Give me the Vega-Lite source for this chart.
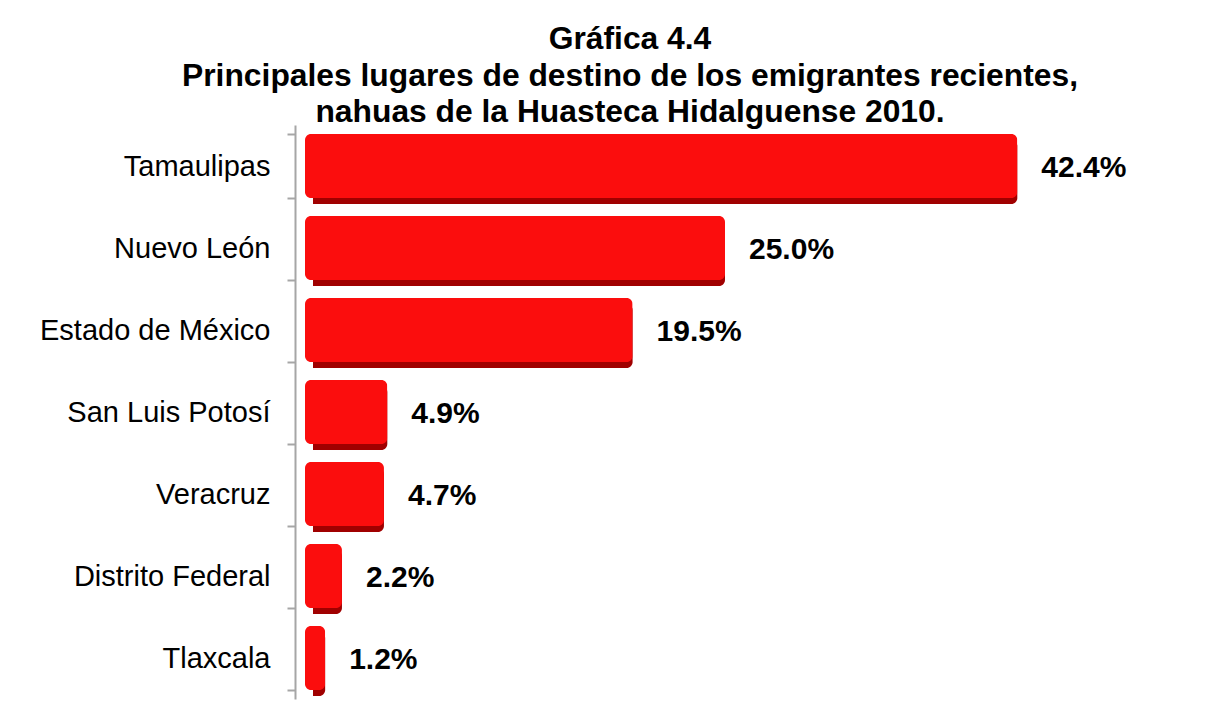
{
  "$schema": "https://vega.github.io/schema/vega-lite/v6.json",
  "width": 840,
  "height": 574,
  "autosize": {"type": "none"},
  "padding": {"left": 305, "top": 125, "right": 62, "bottom": 22},
  "background": "white",
  "title": {
    "text": ["Gráfica 4.4", "Principales lugares de destino de los emigrantes recientes,", "nahuas de la Huasteca Hidalguense 2010."],
    "font": "Liberation Sans",
    "fontSize": 31.8,
    "fontWeight": "bold",
    "color": "black",
    "lineHeight": 36.5,
    "anchor": "middle",
    "frame": "group",
    "dx": -95,
    "dy": 45,
    "baseline": "alphabetic",
    "offset": 2
  },
  "data": {
    "values": [
      {"estado": "Tamaulipas", "pct": 42.4},
      {"estado": "Nuevo León", "pct": 25.0},
      {"estado": "Estado de México", "pct": 19.5},
      {"estado": "San Luis Potosí", "pct": 4.9},
      {"estado": "Veracruz", "pct": 4.7},
      {"estado": "Distrito Federal", "pct": 2.2},
      {"estado": "Tlaxcala", "pct": 1.2}
    ]
  },
  "transform": [{"calculate": "format(datum.pct / 100, '.1%')", "as": "etiqueta"}],
  "encoding": {
    "y": {
      "field": "estado",
      "type": "nominal",
      "sort": null,
      "scale": {"paddingInner": 0.22, "paddingOuter": 0.11},
      "axis": {
        "title": null,
        "offset": 10,
        "domainColor": "#a6a6a6",
        "domainWidth": 2,
        "tickColor": "#a6a6a6",
        "tickWidth": 2,
        "tickSize": 8,
        "tickBand": "extent",
        "labelFont": "Liberation Sans",
        "labelFontSize": 29,
        "labelColor": "black",
        "labelPadding": 17,
        "labelLimit": 400
      }
    },
    "x": {
      "field": "pct",
      "type": "quantitative",
      "scale": {"domain": [0, 50]},
      "axis": null
    }
  },
  "layer": [
    {
      "mark": {"type": "bar", "color": "#a00000", "cornerRadius": 6, "xOffset": 8, "yOffset": 6}
    },
    {
      "mark": {"type": "bar", "color": "#fb0d0d", "cornerRadius": 6}
    },
    {
      "mark": {"type": "text", "align": "left", "baseline": "middle", "dx": 24, "dy": 2, "font": "Liberation Sans", "fontSize": 30, "fontWeight": "bold", "color": "black"},
      "encoding": {"text": {"field": "etiqueta"}}
    }
  ],
  "config": {"view": {"stroke": null}}
}
